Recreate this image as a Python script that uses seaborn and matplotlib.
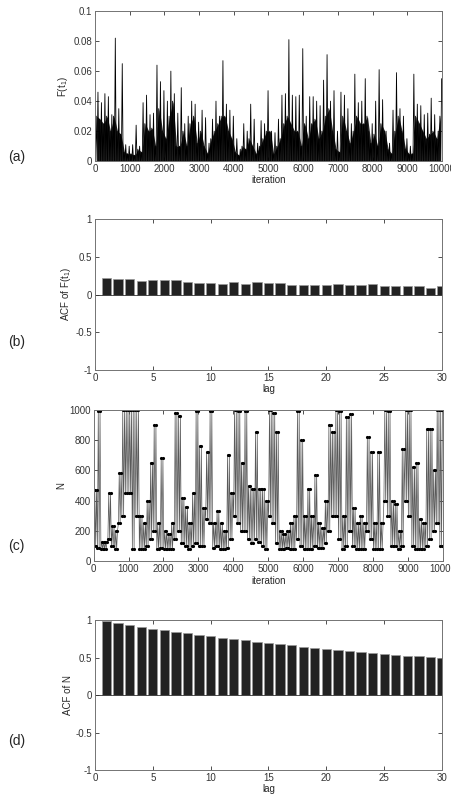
import numpy as np
import pandas as pd
import matplotlib
matplotlib.use("Agg")
import matplotlib.pyplot as plt
import seaborn as sns

# valores (por bloques de 100 iteraciones)
f_peak = [0.046, 0.039, 0.045, 0.043, 0.031, 0.082, 0.035, 0.065, 0.011, 0.010,
          0.011, 0.024, 0.010, 0.039, 0.044, 0.031, 0.032, 0.064, 0.053, 0.047,
          0.040, 0.060, 0.045, 0.032, 0.049, 0.025, 0.030, 0.040, 0.038, 0.026,
          0.034, 0.029, 0.012, 0.028, 0.040, 0.030, 0.067, 0.038, 0.034, 0.030,
          0.015, 0.008, 0.025, 0.020, 0.038, 0.028, 0.012, 0.027, 0.025, 0.047,
          0.020, 0.019, 0.028, 0.044, 0.045, 0.081, 0.044, 0.043, 0.044, 0.075,
          0.030, 0.043, 0.043, 0.040, 0.037, 0.054, 0.071, 0.040, 0.047, 0.020,
          0.046, 0.044, 0.035, 0.025, 0.058, 0.039, 0.040, 0.055, 0.020, 0.025,
          0.040, 0.061, 0.041, 0.020, 0.012, 0.034, 0.059, 0.035, 0.030, 0.015,
          0.010, 0.058, 0.038, 0.037, 0.031, 0.032, 0.042, 0.031, 0.020, 0.055]
f_core = [0.030, 0.028, 0.025, 0.030, 0.020, 0.030, 0.020, 0.018, 0.006, 0.005,
          0.005, 0.004, 0.008, 0.006, 0.025, 0.020, 0.022, 0.010, 0.035, 0.020,
          0.015, 0.030, 0.040, 0.010, 0.010, 0.020, 0.010, 0.025, 0.030, 0.012,
          0.020, 0.010, 0.005, 0.015, 0.020, 0.025, 0.030, 0.030, 0.020, 0.015,
          0.006, 0.004, 0.010, 0.008, 0.015, 0.010, 0.005, 0.010, 0.015, 0.020,
          0.020, 0.005, 0.010, 0.015, 0.025, 0.030, 0.025, 0.020, 0.020, 0.010,
          0.025, 0.015, 0.025, 0.028, 0.015, 0.020, 0.030, 0.035, 0.020, 0.008,
          0.006, 0.030, 0.020, 0.012, 0.020, 0.030, 0.025, 0.025, 0.030, 0.012,
          0.018, 0.010, 0.025, 0.020, 0.008, 0.005, 0.020, 0.030, 0.020, 0.008,
          0.005, 0.005, 0.030, 0.025, 0.020, 0.015, 0.018, 0.020, 0.015, 0.030]

n_hi = [470, 990, 130, 130, 450, 230, 200, 580, 1000, 1000,
        1000, 1000, 1000, 300, 250, 400, 650, 900, 250, 680,
        200, 180, 250, 980, 960, 420, 360, 250, 450, 990,
        760, 350, 720, 990, 250, 330, 250, 200, 700, 450,
        1000, 990, 650, 990, 500, 480, 850, 480, 480, 400,
        1000, 980, 850, 200, 180, 200, 250, 300, 990, 800,
        300, 480, 300, 570, 250, 220, 400, 900, 850, 1000,
        990, 300, 950, 970, 350, 250, 300, 250, 820, 720,
        250, 720, 250, 1000, 990, 400, 380, 200, 740, 1000,
        1000, 620, 650, 280, 250, 870, 870, 600, 1000, 1000]
n_lo = [100, 90, 80, 80, 150, 100, 80, 250, 300, 450,
        450, 80, 300, 80, 80, 100, 150, 200, 80, 90,
        80, 80, 80, 150, 200, 120, 100, 80, 100, 120,
        100, 100, 280, 250, 90, 100, 80, 80, 90, 150,
        300, 250, 200, 200, 150, 120, 150, 130, 100, 80,
        300, 250, 120, 80, 80, 90, 80, 80, 150, 100,
        80, 80, 80, 100, 90, 90, 120, 200, 300, 300,
        150, 80, 100, 200, 100, 80, 80, 80, 200, 150,
        80, 80, 80, 400, 300, 100, 100, 80, 100, 400,
        300, 100, 80, 80, 80, 100, 150, 200, 250, 100]

lags = list(range(1, 31))
acf_f = [0.217, 0.208, 0.204, 0.186, 0.190, 0.195, 0.195, 0.168, 0.160, 0.160,
         0.137, 0.164, 0.146, 0.164, 0.150, 0.155, 0.133, 0.128, 0.128, 0.124,
         0.142, 0.124, 0.124, 0.137, 0.110, 0.110, 0.110, 0.115, 0.093, 0.110]
acf_n = [0.987, 0.960, 0.938, 0.911, 0.884, 0.867, 0.844, 0.822, 0.804, 0.787,
         0.764, 0.747, 0.729, 0.711, 0.693, 0.676, 0.662, 0.644, 0.631, 0.618,
         0.604, 0.591, 0.578, 0.564, 0.551, 0.538, 0.524, 0.516, 0.502, 0.498]

panel_labels = ["(a)", "(b)", "(c)", "(d)"]

sns.set_style("ticks")
plt.rcParams['font.family'] = ['Liberation Sans', 'DejaVu Sans']
plt.rcParams['axes.unicode_minus'] = False
plt.rcParams['mathtext.fontset'] = 'custom'
plt.rcParams['mathtext.rm'] = 'Liberation Sans'
plt.rcParams['mathtext.it'] = 'Liberation Sans'

fig = plt.figure(figsize=(4.52, 7.94), dpi=100)
ax_a = fig.add_axes([0.210, 0.797, 0.768, 0.189])
ax_b = fig.add_axes([0.210, 0.534, 0.768, 0.190])
ax_c = fig.add_axes([0.207, 0.293, 0.773, 0.191])
ax_d = fig.add_axes([0.210, 0.030, 0.768, 0.189])

def estilo(ax):
    ax.tick_params(direction='in', length=3, width=0.6, labelsize=7,
                   top=True, right=True, colors='0.2', pad=2)
    for s in ax.spines.values():
        s.set_color('0.45')
        s.set_linewidth(0.7)

# (a) traza de F(t1): en cada bloque la traza baja a ~0, sube al nivel denso, baja y sube al pico
blk = np.arange(0, 10000, 100)
it_a = np.ravel(np.column_stack([blk + 12.5, blk + 37.5, blk + 62.5, blk + 87.5]))
zeros = np.zeros(len(blk))
f_a = np.ravel(np.column_stack([zeros, f_core, zeros, f_peak]))
df_a = pd.DataFrame({"iteration": it_a, "F": f_a})
# zona densa (negra) bajo la traza
ax_a.fill_between(blk + 50, 0, f_core, color='black', alpha=0.85, lw=0)
sns.lineplot(data=df_a, x="iteration", y="F", color='black', lw=0.6, ax=ax_a)
ax_a.set_xlim(0, 10000)
ax_a.set_ylim(0, 0.1)
ax_a.set_xticks(np.arange(0, 10001, 1000))
ax_a.set_yticks([0, 0.02, 0.04, 0.06, 0.08, 0.1])
ax_a.set_yticklabels(["0", "0.02", "0.04", "0.06", "0.08", "0.1"])
ax_a.set_xlabel("iteration", fontsize=7, labelpad=1)
ax_a.set_ylabel("F(t$_1$)", fontsize=7, labelpad=2)

# (b) ACF de F(t1)
df_b = pd.DataFrame({"lag": lags, "acf": acf_f})
sns.barplot(data=df_b, x="lag", y="acf", native_scale=True, width=0.8,
            color='#222222', edgecolor='0.6', linewidth=0.5, saturation=1, ax=ax_b)
ax_b.axhline(0, color='0.2', lw=0.6)
ax_b.set_xlim(0, 30)
ax_b.set_ylim(-1, 1)
ax_b.set_xticks(range(0, 31, 5))
ax_b.set_yticks([-1, -0.5, 0, 0.5, 1])
ax_b.set_yticklabels(["-1", "-0.5", "0", "0.5", "1"])
ax_b.set_xlabel("lag", fontsize=7, labelpad=1)
ax_b.set_ylabel("ACF of F(t$_1$)", fontsize=7, labelpad=2)

it_c = np.ravel(np.column_stack([blk + 10, blk + 35, blk + 60, blk + 85]))
n_c = np.ravel(np.column_stack([n_lo, n_hi, n_lo, n_hi]))
df_c = pd.DataFrame({"iteration": it_c, "N": n_c})
sns.lineplot(data=df_c, x="iteration", y="N", color='0.35', lw=0.5, marker='.',
             markersize=3, markerfacecolor='black', markeredgecolor='black', ax=ax_c)
ax_c.set_xlim(0, 10000)
ax_c.set_ylim(0, 1000)
ax_c.set_xticks(np.arange(0, 10001, 1000))
ax_c.set_yticks(range(0, 1001, 200))
ax_c.set_xlabel("iteration", fontsize=7, labelpad=1)
ax_c.set_ylabel("N", fontsize=7, labelpad=2)

# (d) ACF de N
df_d = pd.DataFrame({"lag": lags, "acf": acf_n})
sns.barplot(data=df_d, x="lag", y="acf", native_scale=True, width=0.8,
            color='#222222', edgecolor='0.6', linewidth=0.5, saturation=1, ax=ax_d)
ax_d.axhline(0, color='0.2', lw=0.6)
ax_d.set_xlim(0, 30)
ax_d.set_ylim(-1, 1)
ax_d.set_xticks(range(0, 31, 5))
ax_d.set_yticks([-1, -0.5, 0, 0.5, 1])
ax_d.set_yticklabels(["-1", "-0.5", "0", "0.5", "1"])
ax_d.set_xlabel("lag", fontsize=7, labelpad=1)
ax_d.set_ylabel("ACF of N", fontsize=7, labelpad=2)

for ax in [ax_a, ax_b, ax_c, ax_d]:
    estilo(ax)

for lab, yy in zip(panel_labels, [157, 342, 546, 741]):
    fig.text(8 / 452, 1 - yy / 794, lab, fontsize=10, va='center', ha='left')

fig.savefig("out.png", dpi=100)
